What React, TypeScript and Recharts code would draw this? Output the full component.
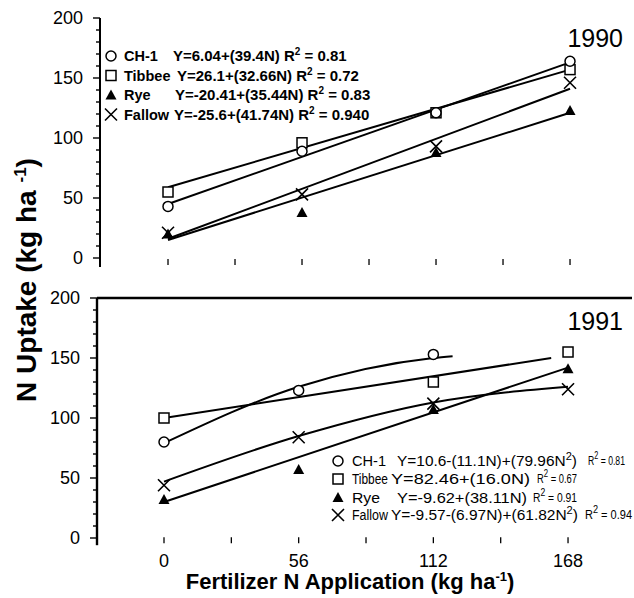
import React from 'react';
import { ComposedChart, Line, Scatter, XAxis, YAxis, ReferenceLine } from 'recharts';

// ---------- axes ----------
const xTicks = [0, 28, 56, 84, 112, 140, 168];
const xTickLabels = [0, 56, 112, 168];
const yTicks = [0, 10, 20, 30, 40, 50, 60, 70, 80, 90, 100, 110, 120, 130, 140, 150, 160, 170, 180, 190, 200];
const yTickLabels = [0, 50, 100, 150, 200];

// ---------- 1990 observations ----------
const rates = [0, 56, 112, 168];
const ch1_1990 = [43, 89, 121, 164];
const tibbee_1990 = [55, 96, 121, 157];
const rye_1990 = [20, 38, 88, 123];
const fallow_1990 = [21, 53, 93, 146];

// ---------- 1990 regression lines ----------
const fitX_1990 = [0, 168];
const ch1Fit_1990 = [45, 163];
const tibbeeFit_1990 = [59, 157];
const ryeFit_1990 = [15, 121];
const fallowFit_1990 = [16, 141];

// ---------- 1991 observations ----------
const ch1Rates_1991 = [0, 56, 112];
const ch1_1991 = [80, 123, 153];
const tibbeeRates_1991 = [0, 112, 168];
const tibbee_1991 = [100, 130, 155];
const rye_1991 = [32, 57, 107, 141];
const fallow_1991 = [44, 84, 112, 124];

// ---------- 1991 fitted curves ----------
const ch1FitX_1991 = [0, 56, 112, 120];
const ch1Fit_1991 = [79, 126, 150, 151.5];
const tibbeeFitX_1991 = [0, 161];
const tibbeeFit_1991 = [100, 150];
const ryeFitX_1991 = [0, 168];
const ryeFit_1991 = [30, 142];
const fallowFit_1991 = [47, 85, 113, 126];

// ---------- legend texts ----------
const seriesNames = ['CH-1', 'Tibbee', 'Rye', 'Fallow'];
const eq1990 = ['Y=6.04+(39.4N)', 'Y=26.1+(32.66N)', 'Y=-20.41+(35.44N)', 'Y=-25.6+(41.74N)'];
const r2_1990 = ['0.81', '0.72', '0.83', '0.940'];
const eq1991 = ['Y=10.6-(11.1N)+(79.96N^2)', 'Y=82.46+(16.0N)', 'Y=-9.62+(38.11N)', 'Y=-9.57-(6.97N)+(61.82N^2)'];
const r2_1991 = ['0.81', '0.67', '0.91', '0.94'];

const FONT = 'Liberation Sans, Arial, Helvetica, sans-serif';

const pts = (xs: number[], ys: number[]) => xs.map((x, i) => ({ x, y: ys[i] }));

// ---------- markers ----------
const CircleM = ({ cx, cy }: any) => <circle cx={cx} cy={cy} r={5} fill="#fff" stroke="#000" strokeWidth={1.5} />;
const SquareM = ({ cx, cy }: any) => <rect x={cx - 5} y={cy - 5} width={10} height={10} fill="#fff" stroke="#000" strokeWidth={1.5} />;
const TriM = ({ cx, cy }: any) => (
  <path d={`M${cx},${cy - 5.5}L${cx + 5.5},${cy + 4.5}L${cx - 5.5},${cy + 4.5}Z`} fill="#000" />
);
const XM = ({ cx, cy }: any) => (
  <path d={`M${cx - 6},${cy - 6}L${cx + 6},${cy + 6}M${cx + 6},${cy - 6}L${cx - 6},${cy + 6}`} stroke="#000" strokeWidth={1.6} fill="none" />
);
const markers = [CircleM, SquareM, TriM, XM];

// ---------- ticks ----------
const YTick = (p: any) => {
  const v = p.payload.value;
  const major = v % 50 === 0;
  return (
    <g>
      <line x1={p.x} x2={p.x - (major ? 7 : 4)} y1={p.y} y2={p.y} stroke="#000" strokeWidth={1.4} />
      {yTickLabels.includes(v) && (
        <text x={p.x - 17} y={p.y} dy="0.36em" textAnchor="end" fontSize={18} fontFamily={FONT} fill="#000">
          {v}
        </text>
      )}
    </g>
  );
};

const makeXTick = (showLabels: boolean) => (p: any) => {
  const v = p.payload.value;
  return (
    <g>
      <line x1={p.x} x2={p.x} y1={p.y - 8} y2={p.y - 2} stroke="#000" strokeWidth={1.3} />
      {showLabels && xTickLabels.includes(v) && (
        <text x={p.x} y={p.y + 22} textAnchor="middle" fontSize={18} fontFamily={FONT} fill="#000">
          {v}
        </text>
      )}
    </g>
  );
};

const lineProps = {
  dataKey: 'y',
  stroke: '#000',
  strokeWidth: 2,
  dot: false,
  activeDot: false,
  isAnimationActive: false,
} as any;

const TopPanel = () => (
  <ComposedChart width={634} height={277} margin={{ top: 18, right: 2, left: 40, bottom: 0 }}>
    <XAxis
      dataKey="x"
      type="number"
      domain={[-28.42, 193.9]}
      ticks={xTicks}
      interval={0}
      tick={makeXTick(false)}
      tickSize={0}
      tickMargin={0}
      tickLine={false}
      axisLine={false}
      height={10}
      allowDataOverflow
    />
    <YAxis
      dataKey="y"
      type="number"
      domain={[-7.5, 200]}
      ticks={yTicks}
      interval={0}
      tick={YTick}
      tickSize={0}
      tickMargin={0}
      tickLine={false}
      axisLine={{ stroke: '#000', strokeWidth: 2 }}
      width={60}
      allowDataOverflow
    />
    <Line {...lineProps} data={pts(fitX_1990, ch1Fit_1990)} type="linear" />
    <Line {...lineProps} data={pts(fitX_1990, tibbeeFit_1990)} type="linear" />
    <Line {...lineProps} data={pts(fitX_1990, ryeFit_1990)} type="linear" />
    <Line {...lineProps} data={pts(fitX_1990, fallowFit_1990)} type="linear" />
    <Scatter data={pts(rates, rye_1990)} dataKey="y" shape={TriM} isAnimationActive={false} />
    <Scatter data={pts(rates, fallow_1990)} dataKey="y" shape={XM} isAnimationActive={false} />
    <Scatter data={pts(rates, tibbee_1990)} dataKey="y" shape={SquareM} isAnimationActive={false} />
    <Scatter data={pts(rates, ch1_1990)} dataKey="y" shape={CircleM} isAnimationActive={false} />
  </ComposedChart>
);

const BottomPanel = () => (
  <ComposedChart width={634} height={316} margin={{ top: 18, right: 2, left: 37, bottom: 0 }}>
    <XAxis
      dataKey="x"
      type="number"
      domain={[-27.86, 194.6]}
      ticks={xTicks}
      interval={0}
      tick={makeXTick(true)}
      tickSize={0}
      tickMargin={0}
      tickLine={false}
      axisLine={false}
      height={50.8}
      allowDataOverflow
    />
    <YAxis
      dataKey="y"
      type="number"
      domain={[-6, 200]}
      ticks={yTicks}
      interval={0}
      tick={YTick}
      tickSize={0}
      tickMargin={0}
      tickLine={false}
      axisLine={{ stroke: '#000', strokeWidth: 2.4 }}
      width={60}
      allowDataOverflow
    />
    <ReferenceLine y={200} stroke="#000" strokeWidth={2.5} />
    <Line {...lineProps} data={pts(ch1FitX_1991, ch1Fit_1991)} type="monotone" />
    <Line {...lineProps} data={pts(tibbeeFitX_1991, tibbeeFit_1991)} type="linear" />
    <Line {...lineProps} data={pts(ryeFitX_1991, ryeFit_1991)} type="linear" />
    <Line {...lineProps} data={pts(rates, fallowFit_1991)} type="monotone" />
    <Scatter data={pts(rates, rye_1991)} dataKey="y" shape={TriM} isAnimationActive={false} />
    <Scatter data={pts(rates, fallow_1991)} dataKey="y" shape={XM} isAnimationActive={false} />
    <Scatter data={pts(tibbeeRates_1991, tibbee_1991)} dataKey="y" shape={SquareM} isAnimationActive={false} />
    <Scatter data={pts(ch1Rates_1991, ch1_1991)} dataKey="y" shape={CircleM} isAnimationActive={false} />
  </ComposedChart>
);

// render equation text with "^2" superscripts
const Eq = ({ s, size }: { s: string; size: number }) => {
  const parts = s.split('^');
  const out: any[] = [];
  parts.forEach((part, i) => {
    if (i === 0) {
      out.push(<tspan key={i}>{part}</tspan>);
    } else {
      out.push(
        <tspan key={i + 'a'} dy={-6} fontSize={size * 0.72}>
          {part[0]}
        </tspan>
      );
      out.push(
        <tspan key={i + 'b'} dy={6}>
          {part.slice(1)}
        </tspan>
      );
    }
  });
  return <>{out}</>;
};

const topRowsY = [56, 75.5, 95, 114.5];
const topEqX = [173, 177, 175, 174];
const botRowsY = [461, 479, 497.5, 515];
const botNameW = [34, 36, 28, 36];
const botEqX = [397, 391, 397, 391];
const botEqW = [180, 139, 130, 187];
const botR2X = [588, 537, 533, 585];
const botR2W = [37, 40, 44, 47];

const Overlay = () => (
  <svg width={634} height={598} style={{ position: 'absolute', left: 0, top: 0, pointerEvents: 'none' }} fontFamily={FONT}>
    {/* year labels */}
    <text x={623} y={47} textAnchor="end" fontSize={25} fill="#000">1990</text>
    <text x={623} y={330} textAnchor="end" fontSize={25} fill="#000">1991</text>

    {/* top legend */}
    {seriesNames.map((n, i) => {
      const M = markers[i];
      const y = topRowsY[i];
      return (
        <g key={'t' + i}>
          <M cx={111} cy={y} />
          <text x={124} y={y} dy="0.36em" fontSize={14.5} fontWeight="bold" fill="#000">{n}</text>
          <text x={topEqX[i]} y={y} dy="0.36em" fontSize={15} fontWeight="bold" fill="#000">
            {eq1990[i] + ' R'}
            <tspan dy={-6} fontSize={10}>2</tspan>
            <tspan dy={6}>{' = ' + r2_1990[i]}</tspan>
          </text>
        </g>
      );
    })}

    {/* bottom legend */}
    {seriesNames.map((n, i) => {
      const M = markers[i];
      const y = botRowsY[i];
      return (
        <g key={'b' + i}>
          <M cx={338} cy={y} />
          <text x={352} y={y} dy="0.36em" fontSize={14} fill="#000" textLength={botNameW[i]} lengthAdjust="spacingAndGlyphs">
            {n}
          </text>
          <text x={botEqX[i]} y={y} dy="0.36em" fontSize={14} fill="#000" textLength={botEqW[i]} lengthAdjust="spacingAndGlyphs">
            <Eq s={eq1991[i]} size={14} />
          </text>
          <text x={botR2X[i]} y={y} dy="0.36em" fontSize={12} fill="#000" textLength={botR2W[i]} lengthAdjust="spacingAndGlyphs">
            R<tspan dy={-6} fontSize={10}>2</tspan>
            <tspan dy={6}>{' = ' + r2_1991[i]}</tspan>
          </text>
        </g>
      );
    })}

    {/* axis titles */}
    <text x={350} y={589} textAnchor="middle" fontSize={22} fontWeight="bold" fill="#000">
      Fertilizer N Application (kg ha<tspan dy={-8} fontSize={13}>-1</tspan>
      <tspan dy={8}>)</tspan>
    </text>
    <text transform="translate(36,280) rotate(-90)" x={0} y={0} textAnchor="middle" fontSize={28} fontWeight="bold" fill="#000">
      N Uptake (kg ha <tspan dy={-10} fontSize={17}>-1</tspan>
      <tspan dy={10}>)</tspan>
    </text>
  </svg>
);

export default function App() {
  return (
    <div style={{ position: 'absolute', left: 0, top: 0, width: 634, height: 598, background: '#fff' }}>
      <div style={{ position: 'absolute', left: 0, top: 0 }}>
        <TopPanel />
      </div>
      <div style={{ position: 'absolute', left: 0, top: 280 }}>
        <BottomPanel />
      </div>
      <Overlay />
    </div>
  );
}
